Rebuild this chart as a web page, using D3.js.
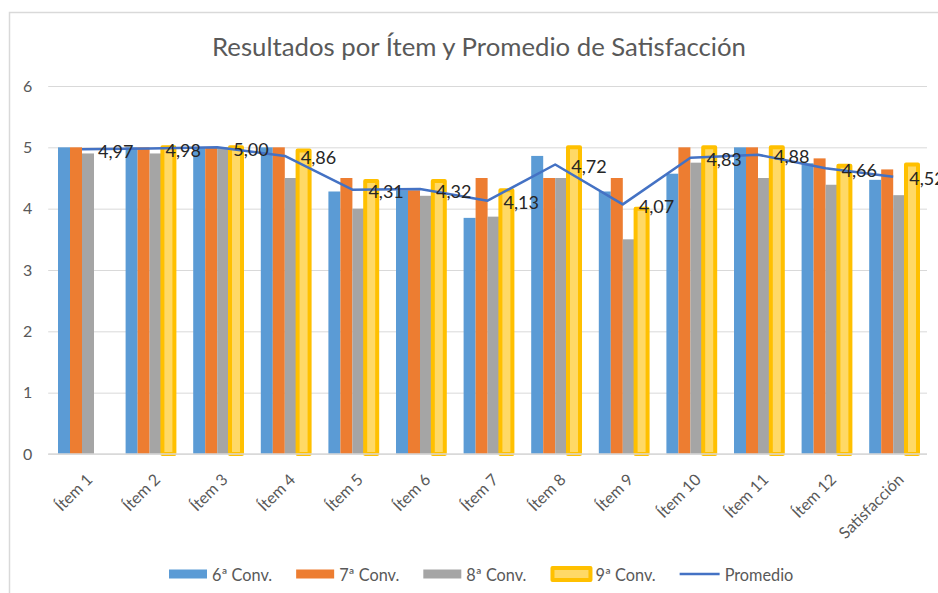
<!DOCTYPE html>
<html>
<head>
<meta charset="utf-8">
<script src="https://cdn.jsdelivr.net/npm/d3@7/dist/d3.min.js"></script>
<style>
  html, body { margin: 0; padding: 0; background: #fff; }
  svg { display: block; }
  text { font-family: Lato, "Open Sans", sans-serif; }
</style>
</head>
<body>
<svg id="chart" width="938" height="593"></svg>
<script>
const categories = ["Ítem 1", "Ítem 2", "Ítem 3", "Ítem 4", "Ítem 5", "Ítem 6", "Ítem 7",
  "Ítem 8", "Ítem 9", "Ítem 10", "Ítem 11", "Ítem 12", "Satisfacción"];
const conv6 = [5.00, 5.00, 5.00, 5.00, 4.28, 4.30, 3.85, 4.86, 4.28, 4.57, 5.00, 4.74, 4.47];
const conv7 = [5.00, 5.00, 5.00, 5.00, 4.50, 4.30, 4.50, 4.50, 4.50, 5.00, 5.00, 4.82, 4.64];
const conv8 = [4.90, 4.90, 5.00, 4.50, 4.00, 4.21, 3.87, 4.50, 3.50, 4.75, 4.50, 4.39, 4.22];
const conv9 = [null, 5.00, 5.00, 4.95, 4.45, 4.45, 4.30, 5.00, 4.00, 5.00, 5.00, 4.70, 4.72];
const promedio = [4.97, 4.98, 5.00, 4.86, 4.31, 4.32, 4.13, 4.72, 4.07, 4.83, 4.88, 4.66, 4.52];
const seriesNames = ["6ª Conv.", "7ª Conv.", "8ª Conv.", "9ª Conv."];
const lineName = "Promedio";
const yTicks = [0, 1, 2, 3, 4, 5, 6];
const title = "Resultados por Ítem y Promedio de Satisfacción";

const seriesValues = [conv6, conv7, conv8, conv9];
const colors = ["#5B9BD5", "#ED7D31", "#A5A5A5", "#FFD966"];
const goldStroke = "#FFC000";
const lineColor = "#4472C4";

const svg = d3.select("#chart");
const W = 938, H = 593;
const plot = { left: 48.2, right: 927, top: 86, bottom: 454 };

// chart frame
svg.append("rect")
  .attr("x", 9.5).attr("y", 12.5)
  .attr("width", W + 20).attr("height", H + 20)
  .attr("fill", "#fff").attr("stroke", "#D9D9D9").attr("stroke-width", 1.5);

// title
const titleText = svg.append("text")
  .attr("x", 479).attr("y", 46)
  .attr("text-anchor", "middle").attr("dominant-baseline", "central")
  .attr("fill", "#595959").style("font-size", "24px")
  .text(title);
(function () {
  const target = 534;
  const w = titleText.node().getComputedTextLength();
  titleText.style("font-size", (24 * target / w).toFixed(2) + "px");
})();

const x = d3.scaleBand().domain(categories).range([plot.left, plot.right])
  .paddingInner(0.29).paddingOuter(0.145);
const xs = d3.scaleBand().domain(d3.range(4)).range([0, x.bandwidth()]);
const y = d3.scaleLinear().domain([0, 6]).range([plot.bottom, plot.top]);

// gridlines + y labels
const yAxis = d3.axisLeft(y).tickValues(yTicks)
  .tickSize(-(plot.right - plot.left)).tickPadding(16).tickFormat(d3.format("d"));
const gy = svg.append("g").attr("transform", `translate(${plot.left},0)`).call(yAxis);
gy.select(".domain").remove();
gy.selectAll(".tick line").attr("stroke", "#D9D9D9").attr("stroke-width", 1);
gy.selectAll(".tick text").attr("fill", "#595959").style("font-size", "16px")
  .style("font-family", "Lato, sans-serif");

// bars
const barData = [];
categories.forEach((c, i) => {
  seriesValues.forEach((arr, s) => {
    if (arr[i] != null) barData.push({ c, s, v: arr[i] });
  });
});
const gBars = svg.append("g");
gBars.selectAll("rect").data(barData.filter(d => d.s < 3)).join("rect")
  .attr("x", d => x(d.c) + xs(d.s))
  .attr("y", d => y(d.v))
  .attr("width", xs.bandwidth())
  .attr("height", d => y(0) - y(d.v))
  .attr("fill", d => colors[d.s]);
gBars.selectAll("rect.y9").data(barData.filter(d => d.s === 3)).join("rect")
  .attr("class", "y9")
  .attr("x", d => x(d.c) + xs(d.s) + 0.8)
  .attr("y", d => y(d.v))
  .attr("width", xs.bandwidth())
  .attr("height", d => y(0) - y(d.v))
  .attr("fill", colors[3])
  .attr("stroke", goldStroke).attr("stroke-width", 4)
  .attr("stroke-linejoin", "round");

// x axis
const xAxis = d3.axisBottom(x).tickSize(0).tickPadding(0);
const gx = svg.append("g").attr("transform", `translate(0,${plot.bottom})`).call(xAxis);
gx.select(".domain").attr("stroke", "#D9D9D9").attr("stroke-width", 1.5)
  .attr("d", `M${plot.left},0H${plot.right}`);
gx.selectAll(".tick text")
  .attr("fill", "#595959").style("font-size", "16px").style("font-family", "Lato, sans-serif")
  .attr("text-anchor", "end").attr("dominant-baseline", "central")
  .attr("y", 0).attr("dy", null)
  .attr("transform", "translate(7,22) rotate(-45)");

// average line
const cx = d => x(d) + x.bandwidth() / 2;
const line = d3.line().x((d, i) => cx(categories[i])).y(d => y(d));
svg.append("path").datum(promedio)
  .attr("d", line).attr("fill", "none")
  .attr("stroke", lineColor).attr("stroke-width", 2.5).attr("stroke-linejoin", "round");

// labels
const fmt = v => d3.format(".2f")(v).replace(".", ",");
svg.append("g").selectAll("text").data(promedio).join("text")
  .attr("x", (d, i) => cx(categories[i]) + 16)
  .attr("y", d => y(d) + 1.5)
  .attr("dominant-baseline", "central")
  .attr("fill", "#262626").style("font-size", "18px")
  .text(d => fmt(d));

// legend
const legend = svg.append("g");
let lx = 169;
const ly = 574;
const items = seriesNames.map((n, i) => ({ n, i })).concat([{ n: lineName, i: 4 }]);
items.forEach(it => {
  const g = legend.append("g");
  let tx;
  if (it.i < 3) {
    g.append("rect").attr("x", lx).attr("y", ly - 4.5).attr("width", 38).attr("height", 9)
      .attr("fill", colors[it.i]);
    tx = lx + 43;
  } else if (it.i === 3) {
    g.append("rect").attr("x", lx + 2).attr("y", ly - 6).attr("width", 38).attr("height", 12)
      .attr("fill", colors[3]).attr("stroke", goldStroke).attr("stroke-width", 4)
      .attr("stroke-linejoin", "round");
    tx = lx + 45;
  } else {
    g.append("line").attr("x1", lx).attr("x2", lx + 40).attr("y1", ly).attr("y2", ly)
      .attr("stroke", lineColor).attr("stroke-width", 2.5);
    tx = lx + 45;
  }
  const t = g.append("text").attr("x", tx).attr("y", ly)
    .attr("dominant-baseline", "central").attr("fill", "#595959")
    .style("font-size", "16.3px").text(it.n);
  lx = tx + t.node().getComputedTextLength() + 24;
});
</script>
</body>
</html>
